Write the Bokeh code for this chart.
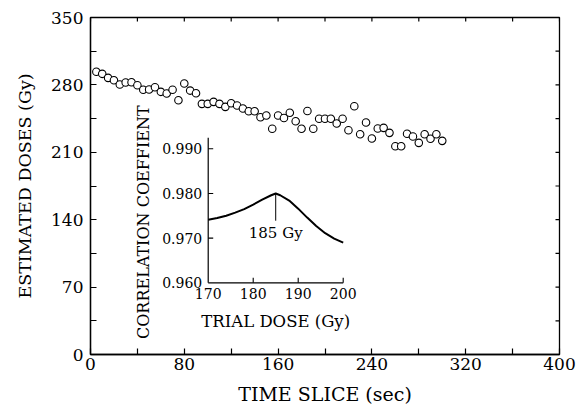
import math
from bokeh.plotting import figure
from bokeh.models import Range1d, FixedTicker
from bokeh.core.properties import value
from bokeh.embed import file_html
from bokeh.resources import INLINE

# ---------------- data ----------------
time_slice = [5, 10, 15, 20, 25, 30, 35, 40, 45, 50,
              55, 60, 65, 70, 75, 80, 85, 90, 95, 100,
              105, 110, 115, 120, 125, 130, 135, 140, 145, 150,
              155, 160, 165, 170, 175, 180, 185, 190, 195, 200,
              205, 210, 215, 220, 225, 230, 235, 240, 245, 250,
              255, 260, 265, 270, 275, 280, 285, 290, 295, 300]
est_dose = [293.6, 291.5, 287.3, 284.8, 280.4, 282.5, 282.8, 279.6, 274.9, 275.2,
            277.6, 272.8, 271.0, 274.9, 264.1, 281.4, 274.1, 271.3, 260.3, 260.3,
            262.4, 260.3, 257.2, 261.0, 258.6, 255.5, 252.6, 252.6, 246.4, 248.2,
            234.4, 248.2, 245.6, 251.0, 242.2, 234.4, 252.9, 234.4, 244.8, 244.8,
            244.8, 239.9, 244.8, 232.9, 257.8, 228.8, 240.9, 224.3, 234.7, 235.4,
            230.2, 216.3, 216.3, 229.2, 226.4, 219.8, 228.8, 224.0, 228.8, 221.9]

x_ticks = [0, 80, 160, 240, 320, 400]
x_minor = [40, 120, 200, 280, 360]
y_ticks = [0, 70, 140, 210, 280, 350]
y_minor = [35, 105, 175, 245, 315]

trial_dose = [170, 172, 174, 176, 178, 180, 182, 184, 185, 186,
              188, 190, 192, 194, 196, 198, 200]
corr_coef = [0.9741, 0.9745, 0.9750, 0.9757, 0.9765, 0.9775, 0.9786, 0.9796, 0.9800, 0.9796,
             0.9784, 0.9766, 0.9746, 0.9727, 0.9711, 0.9699, 0.9690]
inset_x_ticks = [170, 180, 190, 200]
inset_x_labels = ["170", "180", "190", "200"]
inset_y_ticks = [0.960, 0.970, 0.980, 0.990]
inset_y_labels = ["0.960", "0.970", "0.980", "0.990"]
inset_y_top = 0.9925
peak_dose = 185
peak_label = "185 Gy"
peak_line_bottom = 0.9739

FONT = "DejaVu Serif"

p = figure(width=580, height=407, output_backend="svg", toolbar_location=None,
           x_range=Range1d(0, 400), y_range=Range1d(0, 350),
           min_border_left=90, min_border_right=21, min_border_top=17,
           min_border_bottom=53, background_fill_color="white",
           border_fill_color="white")
p.grid.visible = False
p.outline_line_color = "black"
p.outline_line_width = 1.3

# inset scales (mapped over the full frame)
p.extra_x_ranges = {"ix": Range1d(143.84, 248.07)}
p.extra_y_ranges = {"iy": Range1d(0.943948, 1.019395)}

def style_axis(ax, label_size):
    ax.axis_line_color = "black"
    ax.axis_line_width = 1.3
    ax.major_tick_in = 6
    ax.major_tick_out = 0
    ax.minor_tick_in = 6
    ax.minor_tick_out = 0
    ax.major_tick_line_width = 1.2
    ax.minor_tick_line_width = 1.2
    ax.major_label_text_font = FONT
    ax.major_label_text_font_size = "17px"
    ax.major_label_text_color = "black"
    ax.axis_label_text_font = FONT
    ax.axis_label_text_font_size = label_size
    ax.axis_label_text_font_style = "normal"
    ax.axis_label_text_color = "black"

p.xaxis.ticker = FixedTicker(ticks=x_ticks, minor_ticks=x_minor)
p.yaxis.ticker = FixedTicker(ticks=y_ticks, minor_ticks=y_minor)
p.xaxis.axis_label = "TIME SLICE (sec)"
p.yaxis.axis_label = "ESTIMATED DOSES (Gy)"
style_axis(p.xaxis[0], "19px")
style_axis(p.yaxis[0], "17.5px")
p.xaxis.major_label_standoff = 3
p.yaxis.major_label_standoff = 7
p.xaxis.axis_label_standoff = 10
p.yaxis.axis_label_standoff = 13

# mirror ticks on the top and right frame edges
x0, x1 = p.x_range.start, p.x_range.end
y0, y1 = p.y_range.start, p.y_range.end
p.ray(x=x_ticks + x_minor, y=[y1] * (len(x_ticks) + len(x_minor)), length=4,
      length_units="screen", angle=-math.pi / 2, line_color="black", line_width=1.2)
p.ray(x=[x1] * (len(y_ticks) + len(y_minor)), y=y_ticks + y_minor, length=4,
      length_units="screen", angle=math.pi, line_color="black", line_width=1.2)

# main data
p.scatter(time_slice, est_dose, marker="circle", size=7.5, fill_color="white",
          line_color="black", line_width=1.1)

# ---------------- inset ----------------
R = dict(x_range_name="ix", y_range_name="iy")
p.segment(x0=[inset_x_ticks[0], inset_x_ticks[0]], y0=[inset_y_ticks[0], inset_y_ticks[0]],
          x1=[inset_x_ticks[0], inset_x_ticks[-1]], y1=[inset_y_top, inset_y_ticks[0]],
          line_color="black", line_width=1.2, **R)
p.ray(x=[inset_x_ticks[0]] * 3, y=inset_y_ticks[1:], length=5, length_units="screen",
      angle=0, line_color="black", line_width=1.1, **R)
p.ray(x=inset_x_ticks[1:], y=[inset_y_ticks[0]] * 3, length=5, length_units="screen",
      angle=math.pi / 2, line_color="black", line_width=1.1, **R)
p.text(x=[inset_x_ticks[0]] * 4, y=inset_y_ticks, text=inset_y_labels, x_offset=-6,
       text_align="right", text_baseline="middle", text_font=value(FONT),
       text_font_size="14px", text_color="black", **R)
p.text(x=inset_x_ticks, y=[inset_y_ticks[0]] * 4, text=inset_x_labels, y_offset=5,
       text_align="center", text_baseline="top", text_font=value(FONT),
       text_font_size="14px", text_color="black", **R)
p.text(x=[(inset_x_ticks[0] + inset_x_ticks[-1]) / 2], y=[inset_y_ticks[0]],
       text=["TRIAL DOSE (Gy)"], y_offset=29, text_align="center", text_baseline="top",
       text_font=value(FONT), text_font_size="16.5px", text_color="black", **R)
p.text(x=[inset_x_ticks[0]], y=[(inset_y_ticks[0] + inset_y_top) / 2],
       text=["CORRELATION COEFFIENT"], x_offset=-65, y_offset=12, angle=math.pi / 2,
       text_align="center", text_baseline="middle", text_font=value(FONT),
       text_font_size="16px", text_color="black", **R)

p.line(trial_dose, corr_coef, line_color="black", line_width=2, **R)
peak_val = corr_coef[trial_dose.index(peak_dose)]
p.segment(x0=[peak_dose], y0=[peak_val], x1=[peak_dose], y1=[peak_line_bottom],
          line_color="black", line_width=1, **R)
p.text(x=[peak_dose], y=[peak_line_bottom], text=[peak_label], y_offset=3,
       text_align="center", text_baseline="top", text_font=value(FONT),
       text_font_size="15px", text_color="black", **R)

open("out.html", "w").write(file_html(p, INLINE))
